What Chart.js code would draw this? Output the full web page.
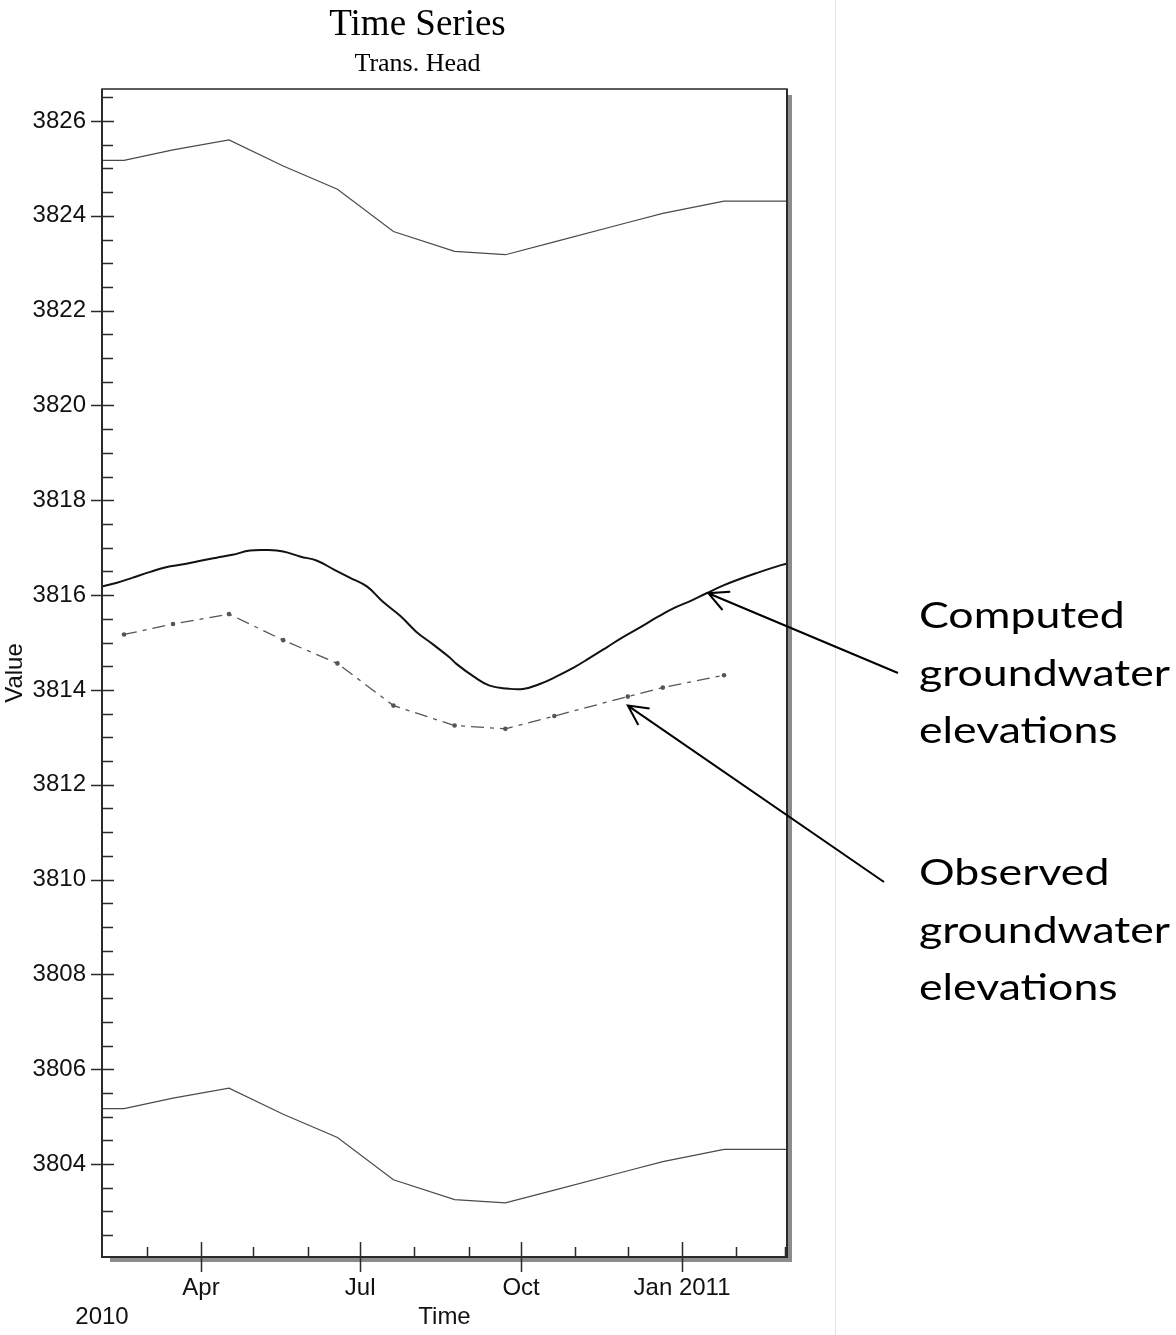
<!DOCTYPE html>
<html><head><meta charset="utf-8">
<script src="https://cdn.jsdelivr.net/npm/chart.js@4.4.1/dist/chart.umd.min.js"></script>
<style>html,body{margin:0;padding:0;background:#fff;}#wrap{width:1176px;height:1335px;position:relative;}canvas{display:block;}</style>
</head><body><div id="wrap"><canvas id="c" width="1176" height="1335"></canvas></div>
<script>
// x values are days counted from 2010-01-01 (Jan 1 = 0)
const computedDays = [32, 42, 51, 61, 70, 80, 89, 99, 108, 118, 128, 137, 147, 156, 166, 175, 185, 194, 204, 213, 223, 232, 236, 246, 255, 265, 274, 284, 293, 303, 312, 322, 331, 341, 351, 360, 370, 379, 389, 398, 408, 417, 425];
const computedValues = [3816.17, 3816.26, 3816.37, 3816.49, 3816.59, 3816.65, 3816.72, 3816.79, 3816.85, 3816.94, 3816.95, 3816.92, 3816.81, 3816.73, 3816.54, 3816.37, 3816.18, 3815.86, 3815.56, 3815.23, 3814.95, 3814.69, 3814.55, 3814.28, 3814.09, 3814.03, 3814.02, 3814.13, 3814.28, 3814.47, 3814.67, 3814.90, 3815.11, 3815.32, 3815.54, 3815.72, 3815.88, 3816.04, 3816.21, 3816.34, 3816.47, 3816.58, 3816.67];
const observedDays = [46, 74, 106, 137, 168, 200, 235, 264, 292, 334, 354, 389];
const observedValues = [3815.17, 3815.39, 3815.60, 3815.05, 3814.56, 3813.67, 3813.25, 3813.18, 3813.45, 3813.86, 3814.05, 3814.31];
const upperDays = [33, 46, 74, 106, 137, 168, 200, 235, 264, 292, 334, 354, 389, 425];
const upperValues = [3825.17, 3825.17, 3825.39, 3825.60, 3825.05, 3824.56, 3823.67, 3823.25, 3823.18, 3823.45, 3823.86, 3824.05, 3824.31, 3824.31];
const lowerDays = [33, 46, 74, 106, 137, 168, 200, 235, 264, 292, 334, 354, 389, 425];
const lowerValues = [3805.17, 3805.17, 3805.39, 3805.60, 3805.05, 3804.56, 3803.67, 3803.25, 3803.18, 3803.45, 3803.86, 3804.05, 3804.31, 3804.31];

const xRange = [33.4, 425];
const xMajorTicks = [90, 181, 273, 365];
const xMajorLabels = ['Apr', 'Jul', 'Oct', 'Jan 2011'];
const xMinorTicks = [59, 120, 151, 212, 243, 304, 334, 396, 424];
const xStartLabel = '2010';
const yRange = [3802.04, 3826.675];
const yLabelFrom = 3804;
const yLabelStep = 2;
const yMinorStep = 0.5;

const chartTitle = 'Time Series';
const chartSubtitle = 'Trans. Head';
const xTitle = 'Time';
const yTitle = 'Value';
const noteComputed = ['Computed', 'groundwater', 'elevations'];
const noteObserved = ['Observed', 'groundwater', 'elevations'];
const arrowTipDays = [380, 334];
const arrowTipValues = [3816.04, 3813.67];

const pts = (xs, ys) => xs.map((d, i) => ({x: d, y: ys[i]}));
const AX = 'Liberation Sans';

const deco = {
  id: 'deco',
  afterDraw(chart) {
    const {ctx, chartArea: a, scales: {x, y}} = chart;
    ctx.save();
    // separator of the two panels
    ctx.fillStyle = '#e3e3e3';
    ctx.fillRect(835, 0, 1, chart.height);
    // frame shadow
    ctx.fillStyle = '#8c8c8c';
    ctx.fillRect(a.right + 1, a.top + 6, 4, a.bottom - a.top - 1);
    ctx.fillRect(a.left + 8, a.bottom + 1, a.right - a.left - 3, 4);
    // frame
    ctx.strokeStyle = '#2a2a2a';
    ctx.lineWidth = 1.5;
    ctx.strokeRect(a.left, a.top, a.right - a.left, a.bottom - a.top);
    ctx.lineWidth = 2;
    ctx.beginPath();
    ctx.moveTo(a.left, a.top); ctx.lineTo(a.left, a.bottom); ctx.lineTo(a.right, a.bottom); ctx.lineTo(a.right, a.top);
    ctx.stroke();
    // y ticks
    ctx.lineWidth = 1.5;
    ctx.beginPath();
    y.ticks.forEach(t => {
      const py = Math.round(y.getPixelForValue(t.value)) + 0.5;
      const major = t.value >= yLabelFrom && (t.value - yLabelFrom) % yLabelStep === 0;
      if (major) { ctx.moveTo(a.left - 11, py); ctx.lineTo(a.left + 12, py); }
      else { ctx.moveTo(a.left, py); ctx.lineTo(a.left + 11, py); }
    });
    // x ticks
    x.ticks.forEach(t => {
      if (t.value === xRange[0]) return;
      const px = Math.round(x.getPixelForValue(t.value)) + 0.5;
      if (xMajorTicks.includes(t.value)) { ctx.moveTo(px, a.bottom - 15); ctx.lineTo(px, a.bottom + 15); }
      else { ctx.moveTo(px, a.bottom - 10); ctx.lineTo(px, a.bottom); }
    });
    ctx.stroke();
    // annotations
    ctx.fillStyle = '#000';
    ctx.font = '36px Lato';
    const sx = 251 / ctx.measureText('groundwater').width;
    const drawNote = (lines, base) => lines.forEach((s, i) => {
      ctx.save(); ctx.translate(919, base + i * 57.5); ctx.scale(sx, 1);
      ctx.textBaseline = 'alphabetic'; ctx.textAlign = 'left';
      ctx.fillText(s, 0, 0); ctx.restore();
    });
    drawNote(noteComputed, 628);
    drawNote(noteObserved, 885);
    const tails = [[898, 673], [884, 882]];
    ctx.strokeStyle = '#000';
    ctx.lineWidth = 2;
    arrowTipDays.forEach((d, i) => {
      const tx = x.getPixelForValue(d), ty = y.getPixelForValue(arrowTipValues[i]);
      const [ex, ey] = tails[i];
      const ang = Math.atan2(ey - ty, ex - tx);
      ctx.beginPath();
      ctx.moveTo(ex, ey); ctx.lineTo(tx, ty);
      const L = 22, h = 0.47;
      ctx.moveTo(tx + L * Math.cos(ang - h), ty + L * Math.sin(ang - h));
      ctx.lineTo(tx, ty);
      ctx.lineTo(tx + L * Math.cos(ang + h), ty + L * Math.sin(ang + h));
      ctx.stroke();
    });
    ctx.restore();
  }
};

new Chart(document.getElementById('c'), {
  type: 'line',
  data: {
    datasets: [
      {label: 'Upper', data: pts(upperDays, upperValues), borderColor: '#4a4a4a', borderWidth: 1.2, pointRadius: 0, tension: 0},
      {label: 'Lower', data: pts(lowerDays, lowerValues), borderColor: '#4a4a4a', borderWidth: 1.2, pointRadius: 0, tension: 0},
      {label: 'Observed', data: pts(observedDays, observedValues), borderColor: '#555', borderWidth: 1.3, borderDash: [13, 6, 4, 6], pointRadius: 2.3, pointBackgroundColor: '#555', pointBorderWidth: 0, tension: 0},
      {label: 'Computed', data: pts(computedDays, computedValues), borderColor: '#111', borderWidth: 2, pointRadius: 0, tension: 0.4}
    ]
  },
  options: {
    responsive: false,
    devicePixelRatio: 1,
    animation: false,
    layout: {padding: {left: 0, right: 341, top: 0, bottom: 0}},
    plugins: {
      legend: {display: false},
      tooltip: {enabled: false},
      title: {display: true, text: chartTitle, color: '#000', font: {family: 'Liberation Serif', size: 37, weight: 'normal'}, padding: {top: 3, bottom: 0}},
      subtitle: {display: true, text: chartSubtitle, color: '#000', font: {family: 'Liberation Serif', size: 26, weight: 'normal'}, padding: {top: 1, bottom: 9.4}}
    },
    scales: {
      x: {
        type: 'linear', min: xRange[0], max: xRange[1],
        afterBuildTicks: s => { s.ticks = [xRange[0], ...xMajorTicks, ...xMinorTicks].sort((p, q) => p - q).map(v => ({value: v})); },
        afterFit: s => { s.height = 78; },
        grid: {display: false, drawTicks: true, tickLength: 15},
        border: {display: false},
        ticks: {
          autoSkip: false, maxRotation: 0, minRotation: 0, padding: 2, color: '#111',
          font: {family: AX, size: 24},
          callback: v => v === xRange[0] ? ['', xStartLabel] : (xMajorTicks.indexOf(v) >= 0 ? xMajorLabels[xMajorTicks.indexOf(v)] : '')
        },
        title: {display: true, text: xTitle, color: '#111', font: {family: AX, size: 24}, padding: {top: 0, bottom: 3}}
      },
      y: {
        type: 'linear', min: yRange[0], max: yRange[1],
        afterBuildTicks: s => { const t = []; for (let k = Math.ceil(yRange[0] / yMinorStep); k * yMinorStep <= yRange[1]; k++) t.push({value: k * yMinorStep}); s.ticks = t; },
        afterFit: s => { s.width = 102; },
        grid: {display: false, drawTicks: true, tickLength: 11},
        border: {display: false},
        ticks: {
          autoSkip: false, padding: 5, color: '#111', font: {family: AX, size: 24},
          callback: v => (v >= yLabelFrom && (v - yLabelFrom) % yLabelStep === 0) ? String(v) : ''
        },
        title: {display: true, text: yTitle, color: '#111', font: {family: AX, size: 24}, padding: {top: 1, bottom: 0}}
      },
      yPad: {
        axis: 'y', type: 'linear', position: 'right', display: true, min: yRange[0], max: yRange[1],
        grid: {display: false, drawTicks: false}, border: {display: false}, ticks: {display: false},
        afterFit: s => { s.width = 48; }
      }
    }
  },
  plugins: [deco]
});
</script>
</body></html>
